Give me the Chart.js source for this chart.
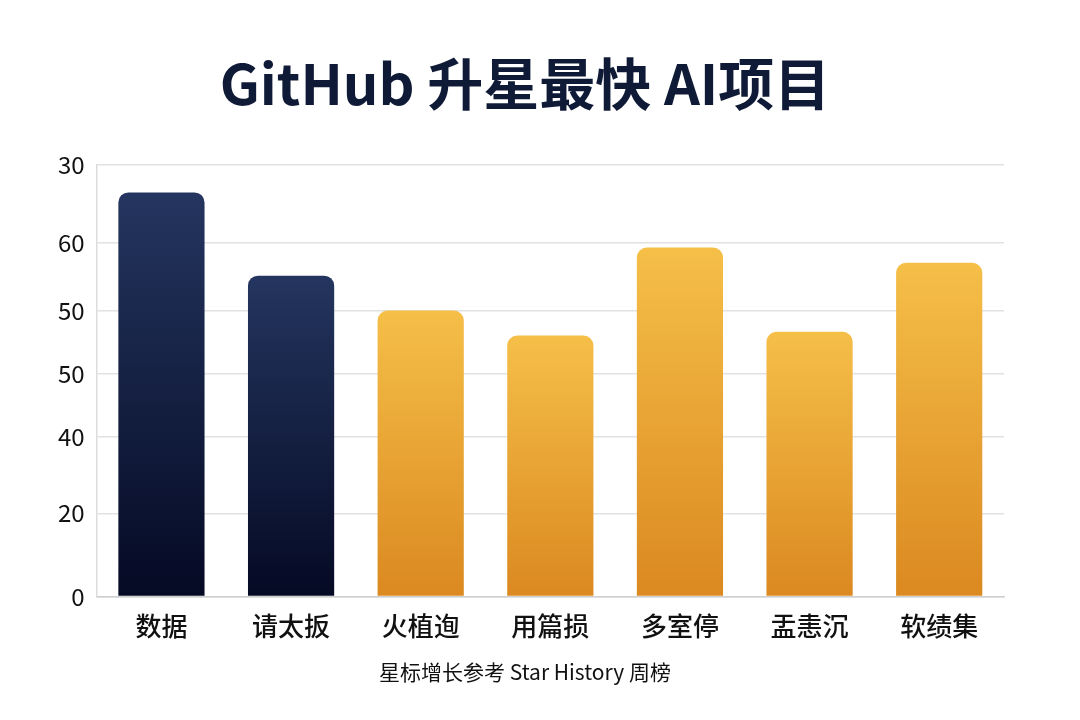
<!DOCTYPE html>
<html>
<head>
<meta charset="utf-8">
<script src="https://cdn.jsdelivr.net/npm/chart.js@4/dist/chart.umd.min.js"></script>
<style>
  html, body { margin: 0; padding: 0; background: #ffffff; }
  #wrap { width: 1080px; height: 720px; position: relative; }
</style>
</head>
<body>
<div id="wrap"><canvas id="chart" width="1080" height="720"></canvas></div>
<script>
// Datos
const categories = ['数据', '请太扳', '火植迿', '用篇损', '多室停', '盂恚沉', '软绩集'];
const values = [93.7, 74.4, 66.3, 60.5, 80.9, 61.4, 77.4];
const barGroup = ['navy', 'navy', 'gold', 'gold', 'gold', 'gold', 'gold'];
const tickValues = [0, 19.3, 37, 51.6, 66.3, 82.1, 100];
const tickLabels = ['0', '20', '40', '50', '50', '60', '30'];

const FONT = "'Noto Sans CJK SC', 'Noto Sans', sans-serif";

const gradients = {
  navy: ['#24355f', '#050a24'],
  gold: ['#f5bf48', '#db8920']
};

function barColor(ctx) {
  const chart = ctx.chart;
  const area = chart.chartArea;
  if (!area) return gradients[barGroup[ctx.dataIndex]][0];
  const yTop = chart.scales.y.getPixelForValue(ctx.raw);
  const c = gradients[barGroup[ctx.dataIndex]];
  const g = chart.ctx.createLinearGradient(0, yTop, 0, area.bottom);
  g.addColorStop(0, c[0]);
  g.addColorStop(1, c[1]);
  return g;
}

new Chart(document.getElementById('chart'), {
  type: 'bar',
  data: {
    labels: categories,
    datasets: [{
      data: values,
      backgroundColor: barColor,
      borderRadius: { topLeft: 10, topRight: 10 },
      borderSkipped: 'bottom',
      categoryPercentage: 1,
      barPercentage: 0.665
    }]
  },
  options: {
    responsive: false,
    animation: false,
    layout: { padding: { left: 46, right: 76, top: 0, bottom: 2 } },
    plugins: {
      legend: { display: false },
      tooltip: { enabled: false },
      title: {
        display: true,
        text: 'GitHub 升星最快 AI项目',
        color: '#0f1a36',
        font: { family: FONT, size: 56, weight: 'bold' },
        padding: { top: 50, bottom: 48 }
      },
      subtitle: {
        display: true,
        position: 'bottom',
        text: '星标增长参考 Star History 周榜',
        color: '#111111',
        font: { family: FONT, size: 21 },
        padding: { top: 12, bottom: 33 }
      }
    },
    scales: {
      x: {
        grid: { display: false },
        border: { color: '#cfcfcf', width: 1.5 },
        ticks: {
          color: '#111111',
          font: { family: FONT, size: 26, weight: '500' },
          padding: 6
        }
      },
      y: {
        min: 0,
        max: 100,
        afterBuildTicks: (scale) => {
          scale.ticks = tickValues.map(v => ({ value: v }));
        },
        grid: { color: '#e2e2e2', lineWidth: 1.5, drawTicks: false },
        border: { color: '#dcdcdc', width: 1.5 },
        ticks: {
          color: '#111111',
          font: { family: FONT, size: 24 },
          padding: 12,
          callback: (value, index) => tickLabels[index]
        }
      }
    }
  }
});
</script>
</body>
</html>
